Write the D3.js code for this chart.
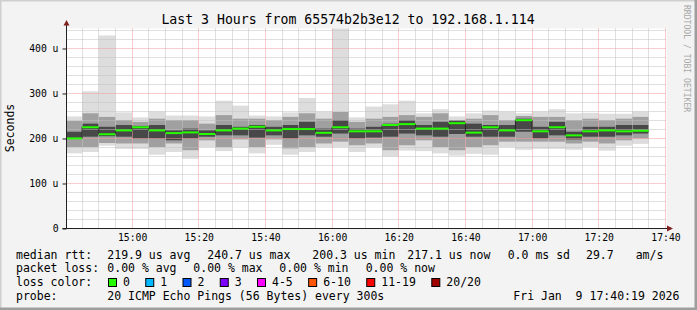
<!DOCTYPE html>
<html>
<head>
<meta charset="utf-8">
<script src="https://cdn.jsdelivr.net/npm/d3@7"></script>
<style>
	body { margin: 0; background: #f3f3f3; }
	svg { display: block; font-family: "DejaVu Sans Mono", monospace; }
	text { white-space: pre; }
</style>
</head>
<body>
<script>
// 5 minute bins (start time of each bin)
const binStart = [
	"14:40", "14:45", "14:50", "14:55", "15:00", "15:05", "15:10", "15:15", "15:20", "15:25", "15:30", "15:35",
	"15:40", "15:45", "15:50", "15:55", "16:00", "16:05", "16:10", "16:15", "16:20", "16:25", "16:30", "16:35",
	"16:40", "16:45", "16:50", "16:55", "17:00", "17:05", "17:10", "17:15", "17:20", "17:25", "17:30",
];

// values in microseconds (u)
const median = [200.3, 225, 209.5, 218, 225, 218, 212, 213.5, 210, 218, 222, 226, 218, 221, 221, 212.6, 225, 216,
	216, 230, 232, 222, 222, 234, 213, 225, 218, 240.7, 216, 225, 207, 216, 218, 216, 217.1];
const pingMax = [249, 305, 429, 258, 247, 260, 251, 251, 249, 284, 273, 251, 249, 258, 290, 260, 460, 247, 271, 276,
	284, 256, 265, 249, 256, 262, 260, 256, 260, 265, 256, 257, 255, 255, 260];
const pingMin = [167, 170, 184, 177, 177, 164, 170, 155, 181, 172, 180, 167, 186, 164, 170, 181, 181, 170, 181, 160,
	173, 172, 167, 162, 166, 164, 181, 175, 177, 177, 175, 181, 173, 184, 188];
const midHi = [239, 256, 248, 241, 237, 244, 241, 241, 233, 252, 244, 244, 241, 248, 256, 244, 259, 237, 244, 248,
	252, 248, 256, 241, 244, 252, 241, 250, 248, 248, 241, 244, 241, 244, 248];
const midLo = [181, 181, 190, 189, 189, 181, 189, 174, 196, 181, 198, 181, 198, 178, 181, 189, 193, 185, 189, 174,
	185, 196, 181, 174, 181, 185, 193, 193, 193, 193, 189, 193, 189, 196, 200];
const innerHi = [215, 233, 226, 230, 228, 230, 218, 222, 218, 230, 226, 230, 226, 230, 237, 222, 241, 222, 226, 233,
	241, 230, 237, 240, 233, 230, 230, 244, 226, 237, 215, 226, 226, 230, 230];
const innerLo = [199, 204, 205, 204, 200, 200, 196, 200, 204, 207, 207, 202, 207, 200, 207, 204, 211, 200, 202, 204,
	211, 207, 204, 210, 204, 204, 204, 215, 200, 207, 198, 204, 204, 207, 211];

const yTicks = [0, 100, 200, 300, 400];
const xTickLabels = ["15:00", "15:20", "15:40", "16:00", "16:20", "16:40", "17:00", "17:20", "17:40"];

const lossLabels = ["0", "1", "2", "3", "4-5", "6-10", "11-19", "20/20"];
const lossColors = ["#26ff00", "#00b8ff", "#0059ff", "#7e00ff", "#ff00ff", "#ff5500", "#ff0000", "#a10000"];

const rttLegend = ["median rtt:", "219.9 us avg", "240.7 us max", "200.3 us min", "217.1 us now", "0.0 ms sd", "29.7", "am/s"];
const lossLegend = ["packet loss:", "0.00 % avg", "0.00 % max", "0.00 % min", "0.00 % now"];
const probeLegend = ["probe:", "20 ICMP Echo Pings (56 Bytes) every 300s", "Fri Jan  9 17:40:19 2026"];

const w = 697;
const h = 310;
const pLeft = 66.5, pRight = 666.5, pTop = 28.5, pBottom = 228.5;

const day = (hm) => {
	const [hh, mm] = hm.split(":").map(Number);
	return new Date(2026, 0, 9, hh, mm, 0);
};
const endTime = new Date(2026, 0, 9, 17, 40, 19);
const startTime = new Date(endTime.getTime() - 3 * 3600 * 1000);

const svg = d3.select("body").append("svg").attr("width", w).attr("height", h);

// background and 3d frame
svg.append("rect").attr("width", w).attr("height", h).attr("fill", "#f3f3f3");
svg.append("path").attr("d", `M0,${h} V0 H${w}`).attr("fill", "none").attr("stroke", "#cfcfcf").attr("stroke-width", 3);
svg.append("path").attr("d", `M0,${h - 1} H${w - 1} V0`).attr("fill", "none").attr("stroke", "#9e9e9e").attr("stroke-width", 3);

const x = d3.scaleTime().domain([startTime, endTime]).range([pLeft, pRight]);
const y = d3.scaleLinear().domain([0, 444.44]).range([pBottom, pTop]);

// canvas
svg.append("rect").attr("x", pLeft).attr("y", pTop).attr("width", pRight - pLeft).attr("height", pBottom - pTop).attr("fill", "#fff");

svg.append("clipPath").attr("id", "plot")
	.append("rect").attr("x", pLeft).attr("y", pTop).attr("width", pRight - pLeft).attr("height", pBottom - pTop);

const bins = binStart.map((t, i) => {
	const t0 = day(t);
	return {
		x0: Math.max(x(t0), pLeft),
		x1: x(new Date(t0.getTime() + 300000)),
		med: median[i], min: pingMin[i], max: pingMax[i],
		mlo: midLo[i], mhi: midHi[i], ilo: innerLo[i], ihi: innerHi[i],
	};
});

// smoke
const smoke = svg.append("g").attr("clip-path", "url(#plot)");
const bands = [
	["min", "max", "#dddddd"],
	["mlo", "mhi", "#a0a0a0"],
	["ilo", "ihi", "#484848"],
];
bands.forEach(([lo, hi, col]) => {
	smoke.selectAll(null)
		.data(bins)
		.enter()
		.append("rect")
		.attr("x", (d) => d.x0)
		.attr("width", (d) => d.x1 - d.x0)
		.attr("y", (d) => y(d[hi]))
		.attr("height", (d) => y(d[lo]) - y(d[hi]))
		.attr("fill", col);
});

// grid
const grid = svg.append("g").attr("stroke-dasharray", "1,1").attr("stroke-width", 1);
const minorTimes = d3.timeMinute.every(5).range(startTime, endTime);
grid.selectAll(null)
	.data(minorTimes.filter((t) => t.getMinutes() % 20 !== 0))
	.enter()
	.append("line")
	.attr("x1", (d) => Math.floor(x(d)) + 0.5).attr("x2", (d) => Math.floor(x(d)) + 0.5)
	.attr("y1", pTop).attr("y2", pBottom)
	.attr("stroke", "#c0c0c0");
grid.selectAll(null)
	.data(d3.range(20, 444, 20).filter((v) => v % 100 !== 0))
	.enter()
	.append("line")
	.attr("x1", pLeft).attr("x2", pRight)
	.attr("y1", (d) => Math.round(y(d)) + 0.5).attr("y2", (d) => Math.round(y(d)) + 0.5)
	.attr("stroke", "#c0c0c0");
grid.selectAll(null)
	.data(xTickLabels.map(day))
	.enter()
	.append("line")
	.attr("x1", (d) => Math.floor(x(d)) + 0.5).attr("x2", (d) => Math.floor(x(d)) + 0.5)
	.attr("y1", pTop).attr("y2", pBottom)
	.attr("stroke", "#f09a9a");
grid.selectAll(null)
	.data(yTicks.slice(1))
	.enter()
	.append("line")
	.attr("x1", pLeft).attr("x2", pRight)
	.attr("y1", (d) => Math.round(y(d)) + 0.5).attr("y2", (d) => Math.round(y(d)) + 0.5)
	.attr("stroke", "#f09a9a");

// median: dark step line then loss coloured segments
const stepLine = d3.line().x((d) => d[0]).y((d) => d[1]);
const pts = [];
bins.forEach((d) => {
	pts.push([d.x0, y(d.med)]);
	pts.push([d.x1, y(d.med)]);
});
svg.append("path").attr("d", stepLine(pts)).attr("fill", "none").attr("stroke", "#202020").attr("stroke-width", 1);
svg.selectAll(null)
	.data(bins)
	.enter()
	.append("line")
	.attr("x1", (d) => d.x0).attr("x2", (d) => d.x1)
	.attr("y1", (d) => y(d.med)).attr("y2", (d) => y(d.med))
	.attr("stroke", lossColors[0])
	.attr("stroke-width", 2);

// axes
const axisCol = "#202020";
svg.append("line").attr("x1", pLeft).attr("x2", pLeft).attr("y1", pBottom + 0.5).attr("y2", 24).attr("stroke", axisCol);
svg.append("line").attr("x1", pLeft - 4).attr("x2", 668).attr("y1", pBottom).attr("y2", pBottom).attr("stroke", axisCol);
svg.append("path").attr("d", `M${pLeft - 3},25.5 L${pLeft + 3},25.5 L${pLeft},20 Z`).attr("fill", "#7f1f1f");
svg.append("path").attr("d", `M667,${pBottom - 3} L667,${pBottom + 3} L673,${pBottom} Z`).attr("fill", "#7f1f1f");

const yAxis = d3.axisLeft(y).tickValues(yTicks).tickSize(4).tickPadding(4)
	.tickFormat((d) => (d === 0 ? "0" : d + " u"));
const gy = svg.append("g").attr("transform", `translate(${pLeft},0)`).call(yAxis);
gy.select(".domain").remove();
gy.selectAll("line").attr("stroke", axisCol);
gy.selectAll("text").attr("font-family", "DejaVu Sans Mono").attr("font-size", "9.75px").attr("fill", "#000").attr("dy", "0.33em");

const xAxis = d3.axisBottom(x).tickValues(xTickLabels.map(day)).tickSize(0).tickPadding(6)
	.tickFormat(d3.timeFormat("%H:%M"));
const gx = svg.append("g").attr("transform", `translate(0,${pBottom})`).call(xAxis);
gx.select(".domain").remove();
gx.selectAll("text").attr("font-family", "DejaVu Sans Mono").attr("font-size", "9.75px").attr("fill", "#000");

// title and labels
svg.append("text").attr("x", 348).attr("y", 24).attr("text-anchor", "middle").attr("font-size", "13.2px")
	.text("Last 3 Hours from 65574b2b3e12 to 192.168.1.114");
svg.append("text").attr("transform", "translate(14,128) rotate(-90)").attr("text-anchor", "middle")
	.attr("font-size", "11.5px").text("Seconds");
svg.append("text").attr("transform", "translate(684,5) rotate(90)").attr("font-size", "8.1px")
	.attr("fill", "#a8a8a8").text("RRDTOOL / TOBI OETIKER");

// legend
const legendFont = "11.5px";
const cw = 6.95;
const line = (texts, xs, yy) => {
	svg.selectAll(null)
		.data(texts)
		.enter()
		.append("text")
		.attr("x", (d, i) => xs[i])
		.attr("y", yy)
		.attr("font-size", legendFont)
		.text((d) => d);
};
line(rttLegend, [16, 107.3, 207.3, 312.3, 407.3, 507.7, 586, 635.7], 258.5);
line(lossLegend, [16, 107.3, 193.3, 279.3, 365.7], 272.2);
line(["loss color:"], [16], 286);
line(probeLegend, [16, 107.3, 513.3], 299.7);

let bx = 108;
lossLabels.forEach((lab, i) => {
	svg.append("rect").attr("x", bx + 0.5).attr("y", 278.5).attr("width", 8).attr("height", 8)
		.attr("fill", lossColors[i]).attr("stroke", "#000");
	svg.append("text").attr("x", bx + 15).attr("y", 286).attr("font-size", legendFont).text(lab);
	bx += 15 + lab.length * cw + 15.3;
});
</script>
</body>
</html>
